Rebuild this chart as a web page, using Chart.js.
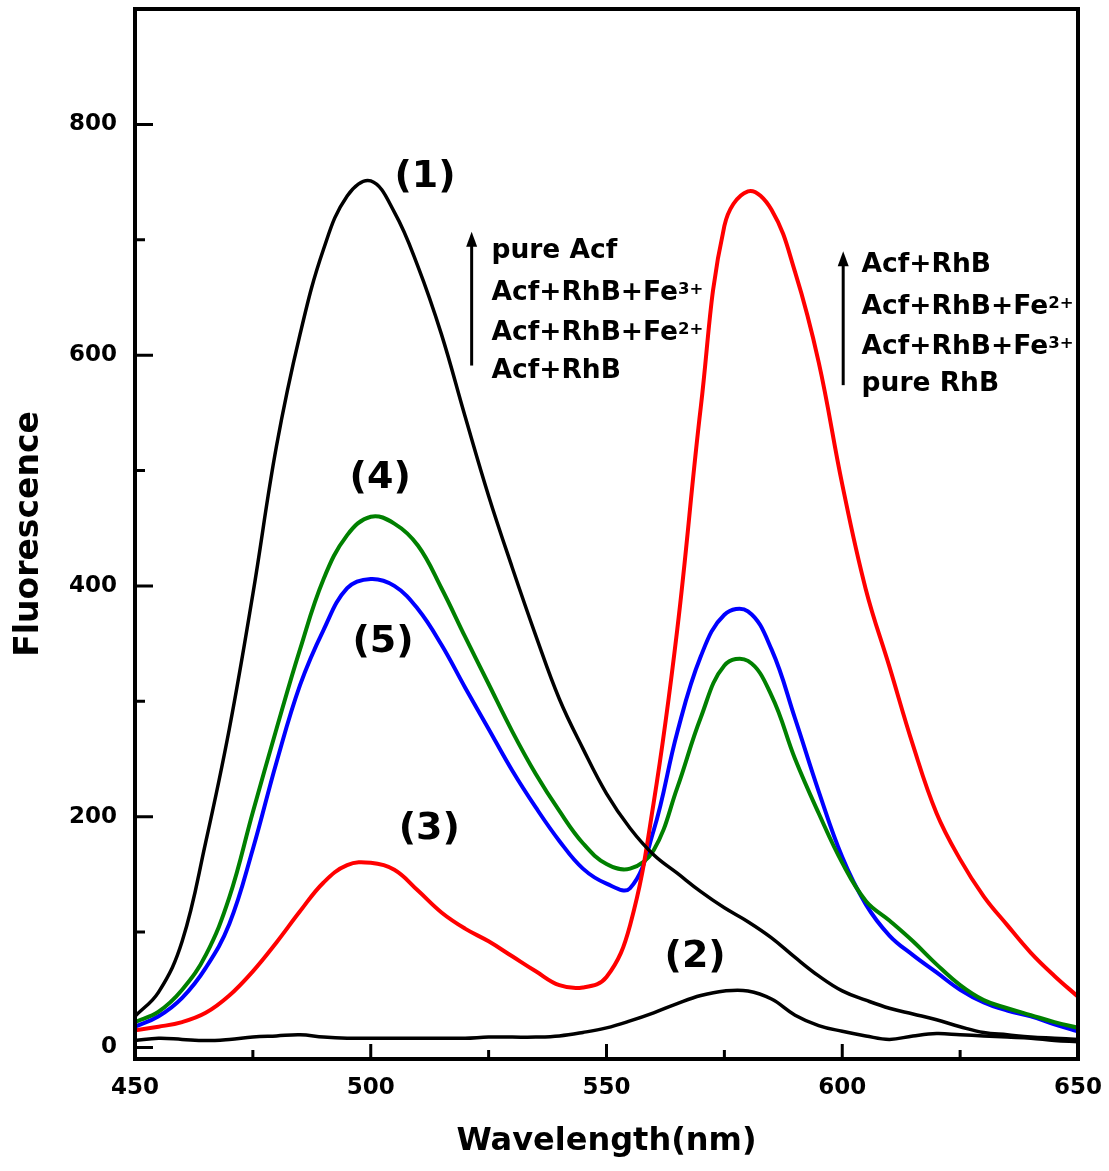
<!DOCTYPE html>
<html>
<head>
<meta charset="utf-8">
<title>Fluorescence spectra</title>
<script src="https://cdn.jsdelivr.net/npm/chart.js@4.4.1/dist/chart.umd.min.js"></script>
<style>
  html, body { margin: 0; padding: 0; background: #fff; }
</style>
</head>
<body>
<canvas id="spectraChart" width="1109" height="1171"></canvas>
<script>
// Emission wavelengths (nm)
const wavelengths = [450, 455, 460, 465, 470, 475, 480, 485, 490, 495, 500, 505, 510, 515, 520, 525, 530, 535, 540, 545,
  550, 555, 560, 565, 570, 575, 580, 585, 590, 595, 600, 605, 610, 615, 620, 625, 630, 635, 640, 645, 650];

// (1) pure Acf
const pureAcf = [27, 48, 92, 178, 276, 393, 521, 618, 692, 738, 751, 724, 677, 618, 547, 478, 416, 357, 302, 259,
  220, 190, 167, 151, 135, 121, 109, 95, 78, 62, 49, 41, 34, 29, 24, 18, 13, 11, 9, 8, 7];
// (2) pure RhB
const pureRhb = [6, 8, 7, 6, 7, 9, 10, 11, 9, 8, 8, 8, 8, 8, 8, 9, 9, 9, 10, 13,
  17, 23, 30, 38, 45, 49, 49, 42, 28, 19, 14, 10, 7, 10, 12, 11, 10, 9, 8, 6, 5];
// (3) Acf+RhB
const acfRhb = [15, 18, 22, 30, 45, 66, 91, 118, 143, 158, 160, 154, 136, 117, 103, 92, 79, 66, 54, 52,
  61, 106, 212, 362, 555, 712, 742, 726, 672, 594, 488, 397, 330, 262, 203, 163, 131, 106, 82, 62, 44];
// (4) Acf+RhB+Fe2+
const acfRhbFe2 = [22, 31, 50, 80, 130, 204, 276, 345, 406, 444, 460, 454, 435, 398, 356, 315, 274, 237, 205, 177,
  159, 155, 171, 225, 286, 331, 335, 305, 250, 203, 160, 127, 110, 92, 72, 54, 41, 34, 28, 22, 17];
// (5) Acf+RhB+Fe3+
const acfRhbFe3 = [18, 27, 43, 69, 107, 172, 247, 314, 362, 398, 406, 400, 380, 349, 312, 276, 240, 208, 179, 155,
  142, 138, 188, 273, 339, 375, 378, 345, 285, 222, 165, 124, 97, 80, 65, 50, 39, 32, 27, 20, 14];

const xTickValues = [450, 500, 550, 600, 650];
const yTickValues = [0, 200, 400, 600, 800];

const FONT = '"DejaVu Sans", sans-serif';

const toPoints = vals => wavelengths.map((w, i) => ({ x: w, y: vals[i] }));

function series(vals, color, width) {
  return {
    data: toPoints(vals),
    borderColor: color,
    borderWidth: width,
    pointRadius: 0,
    fill: false,
    tension: 0.4
  };
}

// curve numbers, placed in data units (nm, counts)
const curveTags = [
  { text: '(1)', x: 511.5, y: 754 },
  { text: '(2)', x: 568.8, y: 78 },
  { text: '(3)', x: 512.4, y: 189 },
  { text: '(4)', x: 502.0, y: 493 },
  { text: '(5)', x: 502.6, y: 351 }
];

// the two "increasing intensity" notes with arrows
const notes = [
  {
    x: 525.6, arrowX: 521.4, arrowTop: 707, arrowBottom: 591,
    lines: [
      { text: 'pure Acf', y: 684 },
      { text: 'Acf+RhB+Fe', sup: '3+', y: 648 },
      { text: 'Acf+RhB+Fe', sup: '2+', y: 613 },
      { text: 'Acf+RhB', y: 580 }
    ]
  },
  {
    x: 604.1, arrowX: 600.2, arrowTop: 690, arrowBottom: 574,
    lines: [
      { text: 'Acf+RhB', y: 672 },
      { text: 'Acf+RhB+Fe', sup: '2+', y: 636 },
      { text: 'Acf+RhB+Fe', sup: '3+', y: 601 },
      { text: 'pure RhB', y: 569 }
    ]
  }
];

// no extra room around the axes beyond the layout padding
function fixBox(s) {
  s.paddingTop = 0;
  s.paddingBottom = 0;
  s.paddingLeft = 0;
  s.paddingRight = 0;
}

// inward ticks, closed frame and the text overlays
const framePlugin = {
  id: 'frame',
  afterDraw(chart) {
    const { ctx, chartArea: a, scales: { x, y } } = chart;
    ctx.save();
    ctx.strokeStyle = '#000';
    ctx.fillStyle = '#000';

    ctx.lineWidth = 3;
    ctx.beginPath();
    for (let v = 0; v <= 800; v += 100) {
      const py = y.getPixelForValue(v);
      const len = v % 200 === 0 ? 18 : 10;
      ctx.moveTo(a.left, py);
      ctx.lineTo(a.left + len, py);
    }
    for (let v = 475; v < 650; v += 25) {
      const px = x.getPixelForValue(v);
      const len = v % 50 === 0 ? 15 : 9;
      ctx.moveTo(px, a.bottom);
      ctx.lineTo(px, a.bottom - len);
    }
    ctx.stroke();

    ctx.lineWidth = 4;
    ctx.strokeRect(a.left, a.top, a.right - a.left, a.bottom - a.top);

    ctx.font = 'bold 38px ' + FONT;
    ctx.textAlign = 'center';
    ctx.textBaseline = 'middle';
    curveTags.forEach(t => {
      ctx.fillText(t.text, x.getPixelForValue(t.x), y.getPixelForValue(t.y));
    });

    ctx.textAlign = 'left';
    ctx.textBaseline = 'alphabetic';
    notes.forEach(n => {
      const px = x.getPixelForValue(n.x);
      n.lines.forEach(l => {
        const py = y.getPixelForValue(l.y);
        ctx.font = 'bold 26.5px ' + FONT;
        ctx.fillText(l.text, px, py);
        if (l.sup) {
          const w = ctx.measureText(l.text).width;
          ctx.font = 'bold 16.5px ' + FONT;
          ctx.fillText(l.sup, px + w, py - 6);
        }
      });
      const ax = x.getPixelForValue(n.arrowX);
      const top = y.getPixelForValue(n.arrowTop);
      const bottom = y.getPixelForValue(n.arrowBottom);
      ctx.lineWidth = 3;
      ctx.beginPath();
      ctx.moveTo(ax, bottom);
      ctx.lineTo(ax, top + 12);
      ctx.stroke();
      ctx.beginPath();
      ctx.moveTo(ax, top);
      ctx.lineTo(ax - 5.5, top + 15);
      ctx.lineTo(ax + 5.5, top + 15);
      ctx.closePath();
      ctx.fill();
    });
    ctx.restore();
  }
};

new Chart(document.getElementById('spectraChart'), {
  type: 'line',
  data: {
    datasets: [
      series(pureAcf, '#000000', 3.5),
      series(pureRhb, '#000000', 3.5),
      series(acfRhb, '#ff0000', 4),
      series(acfRhbFe2, '#008000', 4),
      series(acfRhbFe3, '#0000ff', 4)
    ]
  },
  options: {
    responsive: false,
    animation: false,
    devicePixelRatio: 1,
    layout: { padding: { top: 9, right: 31, bottom: 0, left: 0 } },
    plugins: {
      legend: { display: false },
      tooltip: { enabled: false }
    },
    scales: {
      x: {
        type: 'linear',
        min: 450,
        max: 650,
        afterBuildTicks: s => { s.ticks = xTickValues.map(v => ({ value: v })); },
        afterFit: s => { s.height = 112; fixBox(s); },
        grid: { display: false, drawTicks: false },
        border: { display: false },
        ticks: {
          autoSkip: false,
          maxRotation: 0,
          padding: 15,
          color: '#000',
          font: { family: FONT, size: 23, weight: 'bold' }
        },
        title: {
          display: true,
          text: 'Wavelength(nm)',
          color: '#000',
          padding: { top: 0, bottom: 10 },
          font: { family: FONT, size: 32, weight: 'bold' }
        }
      },
      y: {
        min: -10,
        max: 900,
        afterBuildTicks: s => { s.ticks = yTickValues.map(v => ({ value: v })); },
        afterFit: s => { s.width = 135; fixBox(s); },
        grid: { display: false, drawTicks: false },
        border: { display: false },
        ticks: {
          padding: 18,
          color: '#000',
          font: { family: FONT, size: 23, weight: 'bold' }
        },
        title: {
          display: true,
          text: 'Fluorescence',
          color: '#000',
          padding: { top: 10, bottom: 0 },
          font: { family: FONT, size: 33, weight: 'bold' }
        }
      }
    }
  },
  plugins: [framePlugin]
});
</script>
</body>
</html>
